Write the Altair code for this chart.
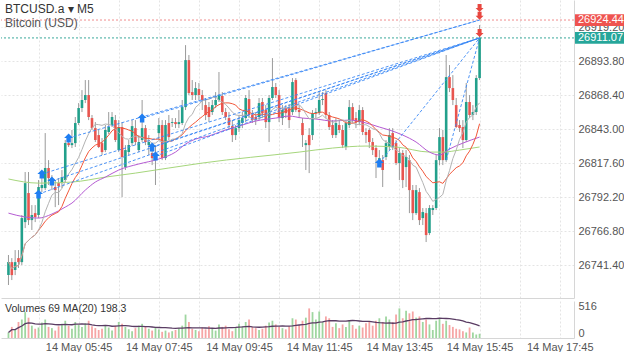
import altair as alt
import pandas as pd

# ---------------- data ----------------
n_bars = 142
bar_time = pd.date_range("2023-05-14 04:00", periods=n_bars, freq="5min")

open_ = [26733.9, 26743.6, 26737.7, 26746.6, 26743.6, 26773.5, 26795.2, 26775.0, 26780.2, 26778.8,
         26798.9, 26798.9, 26813.9, 26803.4, 26799.7, 26802.6, 26802.6, 26804.9, 26832.5, 26831.0,
         26832.5, 26847.5, 26858.7, 26864.7, 26868.4, 26851.2, 26843.7, 26838.5, 26832.5, 26827.3,
         26840.8, 26846.0, 26849.7, 26827.3, 26844.5, 26814.6, 26825.8, 26832.5, 26843.7, 26827.3,
         26834.8, 26843.7, 26831.0, 26825.1, 26822.1, 26840.0, 26846.0, 26821.3, 26847.5, 26847.5,
         26848.2, 26846.7, 26847.5, 26859.4, 26894.5, 26870.6, 26868.4, 26872.9, 26868.4, 26860.9,
         26859.4, 26855.7, 26860.9, 26864.7, 26867.7, 26855.7, 26851.2, 26845.2, 26838.5, 26843.7,
         26847.5, 26851.2, 26865.4, 26853.5, 26852.0, 26852.0, 26863.2, 26857.2, 26848.2, 26866.2,
         26874.4, 26868.4, 26851.2, 26858.7, 26858.7, 26855.7, 26879.6, 26857.2, 26847.5, 26831.0,
         26838.5, 26838.5, 26854.9, 26854.9, 26864.7, 26869.9, 26853.5, 26846.0, 26838.5, 26846.0,
         26842.3, 26829.6, 26846.0, 26859.4, 26851.2, 26848.2, 26857.2, 26840.8, 26842.3, 26833.3,
         26828.8, 26819.8, 26819.8, 26822.1, 26829.6, 26840.0, 26832.5, 26817.6, 26825.1, 26814.6,
         26819.8, 26797.4, 26780.2, 26795.9, 26776.5, 26780.2, 26765.3, 26782.5, 26784.0, 26819.8,
         26837.0, 26819.8, 26881.8, 26873.6, 26860.9, 26846.0, 26844.5, 26834.8, 26863.2, 26853.5,
         26855.7, 26881.1]
close_ = [26743.6, 26733.9, 26743.6, 26743.6, 26776.5, 26802.6, 26775.0, 26778.8, 26777.3, 26799.7,
          26801.2, 26813.9, 26806.4, 26804.9, 26797.4, 26800.4, 26807.1, 26832.5, 26831.0, 26832.5,
          26847.5, 26858.7, 26864.7, 26868.4, 26852.0, 26843.7, 26834.8, 26829.6, 26825.8, 26842.3,
          26844.5, 26852.0, 26834.8, 26844.5, 26822.1, 26827.3, 26831.0, 26845.2, 26833.3, 26833.3,
          26843.7, 26833.3, 26833.3, 26821.3, 26823.6, 26846.0, 26821.3, 26846.0, 26837.0, 26848.2,
          26846.7, 26848.2, 26859.4, 26894.5, 26869.9, 26868.4, 26873.6, 26868.4, 26864.7, 26853.5,
          26852.0, 26860.9, 26864.7, 26868.4, 26855.7, 26852.0, 26846.0, 26838.5, 26843.7, 26849.7,
          26851.2, 26866.2, 26853.5, 26849.7, 26849.7, 26862.4, 26854.9, 26848.2, 26866.2, 26874.4,
          26868.4, 26851.2, 26857.2, 26854.9, 26849.7, 26878.1, 26857.2, 26855.7, 26838.5, 26832.5,
          26831.0, 26854.9, 26855.7, 26864.7, 26865.4, 26853.5, 26844.5, 26838.5, 26847.5, 26842.3,
          26831.0, 26847.5, 26859.4, 26849.7, 26848.2, 26857.2, 26840.8, 26838.5, 26833.3, 26827.3,
          26822.1, 26821.3, 26812.4, 26832.5, 26838.5, 26829.6, 26817.6, 26825.1, 26804.9, 26822.1,
          26797.4, 26780.2, 26797.4, 26775.0, 26781.0, 26763.8, 26784.0, 26784.0, 26819.8, 26837.0,
          26819.8, 26881.8, 26873.6, 26864.7, 26844.5, 26843.7, 26834.8, 26863.2, 26853.5, 26855.7,
          26881.1, 26911.07]
high_ = [26748.9, 26746.6, 26752.6, 26752.6, 26778.8, 26810.9, 26810.9, 26786.2, 26786.2, 26804.9,
         26808.6, 26840.0, 26819.8, 26808.6, 26804.9, 26806.4, 26812.4, 26834.8, 26836.3, 26842.3,
         26852.0, 26862.4, 26872.1, 26879.6, 26879.6, 26853.5, 26848.2, 26842.3, 26836.3, 26846.0,
         26855.7, 26855.7, 26853.5, 26849.7, 26848.2, 26831.0, 26834.8, 26849.7, 26849.7, 26838.5,
         26864.7, 26846.0, 26838.5, 26831.0, 26831.0, 26851.2, 26849.7, 26849.7, 26853.5, 26851.2,
         26851.2, 26857.2, 26864.7, 26905.7, 26898.3, 26879.6, 26878.1, 26877.4, 26872.1, 26866.2,
         26863.2, 26864.7, 26870.6, 26885.6, 26870.6, 26858.7, 26855.7, 26849.7, 26846.0, 26853.5,
         26855.7, 26868.4, 26872.1, 26857.2, 26855.7, 26866.2, 26866.2, 26860.9, 26868.4, 26896.0,
         26877.4, 26872.1, 26860.9, 26860.9, 26861.7, 26881.1, 26881.1, 26860.9, 26851.2, 26834.8,
         26843.7, 26857.2, 26858.7, 26870.6, 26870.6, 26872.1, 26855.7, 26849.7, 26851.2, 26849.7,
         26846.0, 26849.7, 26864.7, 26862.4, 26855.7, 26860.9, 26859.4, 26843.7, 26843.7, 26836.3,
         26831.0, 26827.3, 26823.6, 26834.8, 26843.7, 26843.7, 26834.8, 26828.8, 26827.3, 26827.3,
         26823.6, 26801.2, 26801.2, 26798.9, 26784.0, 26784.0, 26786.2, 26786.2, 26823.6, 26843.7,
         26842.3, 26898.3, 26890.8, 26883.3, 26866.2, 26849.7, 26849.7, 26877.4, 26868.4, 26860.9,
         26883.3, 26920.7]
low_ = [26726.5, 26730.2, 26733.9, 26739.2, 26741.4, 26769.0, 26771.3, 26767.6, 26773.5, 26776.5,
        26795.9, 26797.4, 26801.2, 26797.4, 26784.7, 26786.2, 26798.9, 26803.4, 26829.6, 26828.8,
        26829.6, 26846.0, 26855.7, 26862.4, 26849.7, 26842.3, 26833.3, 26828.8, 26823.6, 26825.8,
        26839.3, 26844.5, 26833.3, 26825.8, 26792.2, 26812.4, 26823.6, 26830.3, 26831.0, 26825.8,
        26833.3, 26831.0, 26823.6, 26816.1, 26801.2, 26834.8, 26819.8, 26819.8, 26834.8, 26844.5,
        26843.7, 26843.7, 26846.0, 26857.2, 26868.4, 26864.7, 26864.7, 26864.7, 26857.2, 26849.7,
        26848.2, 26853.5, 26858.7, 26863.2, 26853.5, 26849.7, 26842.3, 26833.3, 26834.8, 26840.8,
        26843.7, 26848.2, 26851.2, 26847.5, 26846.0, 26849.7, 26851.2, 26843.7, 26833.3, 26864.7,
        26866.2, 26848.2, 26846.0, 26851.2, 26843.7, 26853.5, 26855.7, 26851.2, 26829.6, 26812.4,
        26810.1, 26834.8, 26851.2, 26853.5, 26860.9, 26851.2, 26842.3, 26836.3, 26836.3, 26840.0,
        26828.8, 26827.3, 26843.7, 26847.5, 26843.7, 26846.0, 26838.5, 26832.5, 26828.8, 26823.6,
        26806.4, 26816.1, 26799.7, 26819.8, 26827.3, 26827.3, 26816.1, 26804.9, 26798.9, 26799.7,
        26780.2, 26775.0, 26778.8, 26771.3, 26771.3, 26758.6, 26763.8, 26778.8, 26782.5, 26816.1,
        26816.1, 26818.3, 26870.6, 26860.9, 26843.7, 26840.8, 26828.8, 26833.3, 26851.2, 26849.7,
        26853.5, 26879.6]
volume = [90, 180, 140, 260, 300, 420, 330, 200, 150, 170, 250, 300, 180, 160, 120, 190, 230, 280, 200, 150,
          260, 210, 180, 240, 280, 190, 160, 130, 150, 210, 170, 120, 200, 260, 230, 180, 140, 110, 160, 200,
          230, 180, 150, 120, 170, 140, 100, 120, 90, 110, 130, 160, 200, 380, 260, 150, 130, 110, 170, 140,
          190, 150, 120, 220, 180, 200, 140, 110, 170, 230, 190, 260, 300, 180, 160, 130, 150, 200, 250, 280,
          220, 180, 160, 140, 190, 320, 300, 210, 280, 330, 480, 420, 300, 430, 260, 350, 320, 180, 240, 160,
          220, 180, 290, 210, 150, 200, 170, 240, 260, 200, 280, 320, 260, 350, 300, 260, 380, 480, 320, 440,
          400, 430, 330, 350, 260, 300, 220, 130, 280, 320, 230, 280, 210, 180, 150, 140, 110, 90, 170, 90,
          57, 69]

# slow moving averages (read at sample bars)
purple_bar = [1, 6, 10, 14, 18, 20, 24, 27, 30, 34, 40, 46, 51, 54, 57, 61, 65, 71, 75, 81,
              85, 89, 93, 98, 103, 107, 112, 115, 119, 123, 127, 130, 133, 137, 142]
purple_val = [26780.2, 26777.3, 26776.5, 26779.5, 26784.7, 26787.7, 26797.4, 26803.4, 26807.1, 26812.4,
              26816.9, 26820.6, 26825.8, 26831.8, 26835.5, 26837.8, 26841.5, 26846.0, 26849.0, 26851.2,
              26852.7, 26851.2, 26850.5, 26849.0, 26849.7, 26848.2, 26844.5, 26842.3, 26838.5, 26833.3,
              26825.8, 26823.6, 26828.1, 26832.5, 26837.0]
green_bar = [1, 10, 20, 30, 39, 49, 59, 88, 98, 108, 117, 127, 131, 136, 142]
green_val = [26805.7, 26802.6, 26803.4, 26807.1, 26810.1, 26813.9, 26817.6, 26825.8, 26828.8, 26830.3,
             26829.6, 26825.8, 26825.8, 26827.3, 26829.6]

# trades: entry bar/price -> exit bar/price
trade_entry_bar = [10, 11, 14, 19, 41, 44, 45, 112, 132]
trade_entry_price = [26794.4, 26809.4, 26804.2, 26836.3, 26851.2, 26829.6, 26822.8, 26817.6, 26819.8]
trade_exit_bar = [142, 142, 142, 142, 142, 142, 142, 142, 142]
trade_exit_price = [26911.07, 26911.07, 26911.07, 26924.44, 26924.44, 26911.07, 26911.07, 26911.07, 26911.07]

buy_bar = [10, 11, 14, 19, 41, 44, 45, 112]
buy_price = [26794.4, 26809.4, 26804.2, 26836.3, 26851.2, 26829.6, 26822.8, 26817.6]
sell_bar = [142, 142, 142]
sell_price = [26933.4, 26927.6, 26914.7]

ask_price = 26924.44
bid_price = 26911.07
price_ticks = [26741.40, 26766.80, 26792.20, 26817.60, 26843.00, 26868.40, 26893.80, 26919.20]
vol_ticks = [0, 516]

# ---------------- styling ----------------
GREEN = "#22a08b"
RED = "#e8554f"
VGREEN = "#9fd6a0"
VRED = "#f6a5a5"
BLUE = "#1f7ef2"
FONT = "Liberation Sans"
GRID = "#e4e4e4"
AXISLINE = "#d6d6d6"


def iso(ts):
    return pd.Timestamp(ts).strftime("%Y-%m-%dT%H:%M:%SZ")


def ms(s):
    return int(pd.Timestamp(s, tz="UTC").timestamp() * 1000)


times = [iso(t) for t in bar_time]
df = pd.DataFrame({"t": times, "o": open_, "c": close_, "h": high_, "l": low_, "v": volume})
purple_df = pd.DataFrame({"t": [times[b - 1] for b in purple_bar], "p": purple_val})
green_df = pd.DataFrame({"t": [times[b - 1] for b in green_bar], "p": green_val})
trades_df = pd.DataFrame({
    "t0": [times[b - 1] for b in trade_entry_bar], "p0": trade_entry_price,
    "t1": [times[b - 1] for b in trade_exit_bar], "p1": trade_exit_price,
})
buy_df = pd.DataFrame({"t": [times[b - 1] for b in buy_bar], "p": buy_price})
sell_df = pd.DataFrame({"t": [times[b - 1] for b in sell_bar], "p": sell_price})
box_df = pd.DataFrame({"p": [ask_price, bid_price], "kind": ["ask", "bid"],
                       "label": [f"{ask_price:.2f}", f"{bid_price:.2f}"]})
one = pd.DataFrame({"k": [0]})

x_dom = [ms("2023-05-14 03:56:19"), ms("2023-05-14 17:58:48")]
hour_ticks = [ms(f"2023-05-14 {h:02d}:45") for h in range(4, 18)]
xscale = alt.Scale(type="utc", domain=x_dom)
yscale = alt.Scale(domain=[26716.8, 26939.4], nice=False, zero=False)

xaxis_main = alt.Axis(values=hour_ticks, labels=False, ticks=False, grid=True, gridDash=[2, 2],
                      gridColor=GRID, domainColor=AXISLINE, title=None)
yaxis_main = alt.Axis(orient="right", values=price_ticks, format=".2f", grid=True, gridDash=[2, 2],
                      gridColor=GRID, ticks=False, labelPadding=4, labelColor="#555555",
                      labelFontSize=11, labelFont=FONT, domainColor=AXISLINE, title=None,
                      labelFlush=False)


def X(field):
    return alt.X(field, type="temporal", scale=xscale, axis=xaxis_main, title=None)


def Y(field):
    return alt.Y(field, type="quantitative", scale=yscale, axis=yaxis_main, title=None)


UP_ARROW = "M0,-1 L1,0 L0.5,0 L0.5,1 L-0.5,1 L-0.5,0 L-1,0 Z"
DOWN_ARROW = "M0,1 L1,0 L0.5,0 L0.5,-1 L-0.5,-1 L-0.5,0 L-1,0 Z"

ask_line = alt.Chart(box_df).transform_filter("datum.kind == 'ask'").mark_rule(
    color="#f08e8e", strokeDash=[2, 2], strokeWidth=1).encode(y=Y("p"))
bid_line = alt.Chart(box_df).transform_filter("datum.kind == 'bid'").mark_rule(
    color="#3aa99a", strokeDash=[2, 2], strokeWidth=1).encode(y=Y("p"))

wicks = alt.Chart(df).mark_rule(color="#9a9a9a", strokeWidth=1).encode(
    x=X("t"), y=Y("l"), y2="h:Q")
bodies = alt.Chart(df).mark_bar(size=2.6).encode(
    x=X("t"), y=Y("o"), y2="c:Q",
    color=alt.condition("datum.c >= datum.o", alt.value(GREEN), alt.value(RED)))

ma_gray = alt.Chart(df).transform_window(
    ma="mean(c)", frame=[-9, 0], sort=[{"field": "t"}]
).mark_line(color="#b3b3b3", strokeWidth=1).encode(x=X("t"), y=Y("ma"))
ma_red = alt.Chart(df).transform_window(
    ma="mean(c)", frame=[-15, 0], sort=[{"field": "t"}]
).mark_line(color="#f2573a", strokeWidth=1).encode(x=X("t"), y=Y("ma"))
ma_purple = alt.Chart(purple_df).mark_line(color="#b55bd3", strokeWidth=1, interpolate="monotone").encode(
    x=X("t"), y=Y("p"))
ma_green = alt.Chart(green_df).mark_line(color="#a6d67c", strokeWidth=1, interpolate="monotone").encode(
    x=X("t"), y=Y("p"))

trade_lines = alt.Chart(trades_df).mark_rule(color="#3b88f5", strokeDash=[3, 2], strokeWidth=1,
                                             opacity=0.9).encode(
    x=X("t0"), y=Y("p0"), x2="t1:T", y2="p1:Q")

buys = alt.Chart(buy_df).mark_point(shape=UP_ARROW, filled=True, size=80, color=BLUE, opacity=1,
                                    strokeWidth=0).encode(x=X("t"), y=Y("p"))
sells = alt.Chart(sell_df).mark_point(shape=DOWN_ARROW, filled=True, size=64, color="#e8463f",
                                      opacity=1, strokeWidth=0).encode(x=X("t"), y=Y("p"))

boxes = alt.Chart(box_df).transform_calculate(
    top="datum.p + 4.4", bot="datum.p - 4.4"
).mark_rect().encode(
    x=alt.value(574), x2=alt.value(623), y=Y("top"), y2="bot:Q",
    color=alt.condition("datum.kind == 'ask'", alt.value("#ef5350"), alt.value("#26a69a")))
box_text = alt.Chart(box_df).mark_text(align="left", baseline="middle", color="white",
                                       fontSize=11, font=FONT).encode(
    x=alt.value(577), y=Y("p"), text="label:N")

head1 = alt.Chart(one).mark_text(align="left", baseline="middle", fontSize=12, color="#333333",
                                 font=FONT).encode(
    x=alt.value(4), y=alt.value(9), text=alt.value("BTCUSD.a \u25be M5"))
head2 = alt.Chart(one).mark_text(align="left", baseline="middle", fontSize=12, color="#555555",
                                 font=FONT).encode(
    x=alt.value(4), y=alt.value(23), text=alt.value("Bitcoin (USD)"))

main = alt.layer(
    ask_line, bid_line, wicks, bodies, ma_green, ma_purple, ma_red, ma_gray,
    trade_lines, buys, sells, boxes, box_text, head1, head2
).properties(width=573, height=298)

# ---------------- volume panel ----------------
xaxis_vol = alt.Axis(values=hour_ticks, ticks=False, grid=True, gridDash=[2, 2], gridColor=GRID,
                     domainColor=AXISLINE, title=None, labelColor="#555555", labelFontSize=11,
                     labelFont=FONT, labelPadding=3, labelFlush=False, labelOverlap=False,
                     labelExpr="utchours(datum.value) % 2 == 1 ? utcFormat(datum.value, '%d %b %H:%M') : ''")
vscale = alt.Scale(domain=[0, 600], nice=False)
yaxis_vol = alt.Axis(orient="right", values=vol_ticks, ticks=False, grid=False, domainColor=AXISLINE,
                     labelColor="#555555", labelFontSize=11, labelFont=FONT, labelPadding=4,
                     labelFlush=True, title=None)

vbars = alt.Chart(df).mark_bar(size=1.8).encode(
    x=alt.X("t:T", scale=xscale, axis=xaxis_vol, title=None),
    y=alt.Y("v:Q", scale=vscale, axis=yaxis_vol, title=None),
    color=alt.condition("datum.c >= datum.o", alt.value(VGREEN), alt.value(VRED)))
vma = alt.Chart(df).transform_window(
    vma="mean(v)", frame=[-19, 0], sort=[{"field": "t"}]
).mark_line(color="#5a3c63", strokeWidth=1.3).encode(
    x=alt.X("t:T", scale=xscale, axis=xaxis_vol, title=None),
    y=alt.Y("vma:Q", scale=vscale, axis=yaxis_vol, title=None))
vol_label = f"Volumes {volume[-1]} MA(20) {sum(volume[-20:]) / 20:.1f}"
vtext = alt.Chart(one).mark_text(align="left", baseline="middle", fontSize=10.5, color="#333333",
                                 font=FONT).encode(
    x=alt.value(4), y=alt.value(8), text=alt.value(vol_label))

vol = alt.layer(vbars, vma, vtext).properties(width=573, height=37)

chart = alt.vconcat(main, vol, spacing=2).properties(
    padding={"left": 0, "top": 0, "right": 0, "bottom": 0},
    background="white",
).configure_view(stroke=None)

chart.save("out.html", embed_options={"renderer": "svg", "actions": False})
